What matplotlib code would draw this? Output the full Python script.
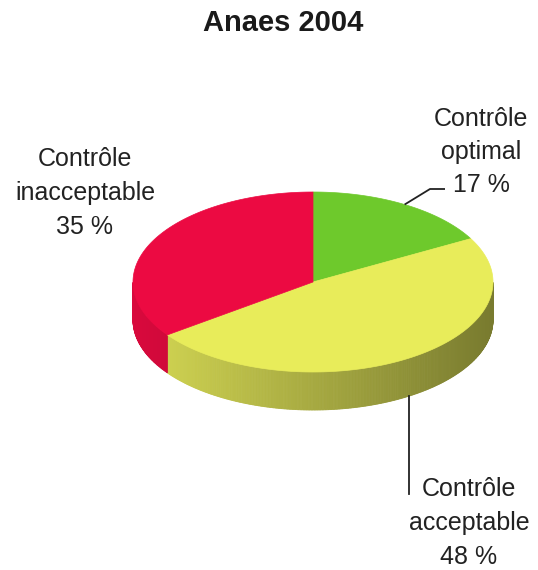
import numpy as np
import matplotlib.pyplot as plt
from matplotlib.patches import Polygon
import matplotlib.colors as mcolors

plt.rcParams["font.family"] = ["Liberation Sans", "DejaVu Sans"]

title = "Anaes 2004"
categories = ["Contrôle\noptimal", "Contrôle\nacceptable", "Contrôle\ninacceptable"]
shares = [17, 48, 35]
top_colors = ["#6ec92c", "#e8ec5a", "#ec0a42"]

# pie geometry in pixel units (y grows downwards)
cx, cy = 313, 282
rx, ry = 180, 90
depth = 38
start_angle = 90


def rim(t, dy=0):
    t = np.radians(t)
    return cx + rx * np.cos(t), cy - ry * np.sin(t) + dy


def side_color(base, t):
    f = 0.72 - 0.2 * np.cos(np.radians(t))
    rgb = np.array(mcolors.to_rgb(base)) * f
    return np.clip(rgb, 0, 1)


fig = plt.figure(figsize=(5.38, 5.70), dpi=100)
ax = fig.add_axes([0, 0, 1, 1])
ax.set_xlim(0, 538)
ax.set_ylim(570, 0)
ax.axis("off")

# slice angle ranges, clockwise from the top
bounds = []
cum = 0
for s in shares:
    a1 = start_angle - cum * 3.6
    cum += s
    a2 = start_angle - cum * 3.6
    bounds.append((a1, a2))

# side faces (front half only)
for (a1, a2), col in zip(bounds, top_colors):
    ts = np.linspace(a2, a1, int(abs(a1 - a2) * 2) + 2)
    for t0, t1 in zip(ts[:-1], ts[1:]):
        tm = (t0 + t1) / 2
        if np.sin(np.radians(tm)) >= 0:
            continue
        p0 = rim(t0)
        p1 = rim(t1)
        q1 = rim(t1, depth)
        q0 = rim(t0, depth)
        c = side_color(col, tm)
        ax.add_patch(Polygon([p0, p1, q1, q0], closed=True, facecolor=c,
                             edgecolor=c, linewidth=0.6))

# top wedges
for (a1, a2), col in zip(bounds, top_colors):
    ts = np.linspace(a1, a2, 200)
    pts = [(cx, cy)] + [rim(t) for t in ts]
    ax.add_patch(Polygon(pts, closed=True, facecolor=col, edgecolor=col,
                         linewidth=0.5))

# labels and leader lines
fs = 18
ls = 1.5
mid = [(a1 + a2) / 2 for a1, a2 in bounds]

ax.text(283, 23, title, ha="center", va="center", fontsize=21,
        fontweight="bold", color="#1a1a1a")

# optimal
x0, y0 = rim(mid[0])
ax.plot([x0, 430, 445], [y0, 189, 189], color="#222222", lw=1.3,
        solid_capstyle="butt")
ax.text(481, 152, f"{categories[0]}\n{shares[0]} %", ha="center", va="center",
        fontsize=fs, linespacing=ls, color="#222222")

# acceptable
x1, y1 = rim(mid[1], depth)
ax.plot([x1, x1], [y1, 494], color="#222222", lw=1.3)
ax.text(469, 523, f"{categories[1]}\n{shares[1]} %", ha="center", va="center",
        fontsize=fs, linespacing=ls, color="#222222")

# inacceptable
ax.text(85, 193, f"{categories[2]}\n{shares[2]} %", ha="center", va="center",
        fontsize=fs, linespacing=ls, color="#222222")

fig.savefig("out.png", dpi=100)
